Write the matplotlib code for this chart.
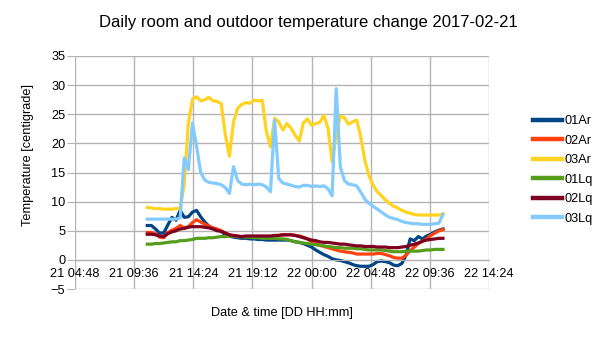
import matplotlib
matplotlib.use("Agg")
import matplotlib.pyplot as plt
import matplotlib.dates as mdates
import pandas as pd

plt.rcParams['font.family'] = ['Liberation Sans', 'DejaVu Sans']

# 20-minute readings, 2017-02-21 10:40 .. 2017-02-22 10:40
times = pd.date_range('2017-02-21 10:40', periods=73, freq='20min')

ar01 = [5.9, 5.9, 5.3, 4.6, 4.6, 6.0, 7.3, 6.8, 8.5, 7.3, 7.4, 8.2, 8.5, 7.4, 6.5, 5.8,
        5.4, 5.2, 4.9, 4.3, 4.1, 3.9, 3.8, 3.7, 3.7, 3.6, 3.6, 3.5, 3.5, 3.4, 3.4, 3.4,
        3.4, 3.4, 3.4, 3.3, 3.1, 3.0, 2.8, 2.5, 2.2, 1.7, 1.3, 0.9, 0.6, 0.2, 0.0, -0.1,
        -0.3, -0.5, -0.8, -1.0, -1.1, -1.1, -1.1, -0.8, -0.3, -0.2, -0.3, -0.5, -0.9, -1.0,
        -0.6, 0.8, 3.6, 3.3, 4.0, 3.6, 4.1, 4.4, 4.8, 5.1, 5.3]
ar02 = [4.7, 4.7, 4.5, 3.9, 3.8, 4.7, 5.1, 5.4, 5.9, 5.5, 5.7, 6.4, 6.9, 6.5, 6.1, 5.8,
        5.5, 5.3, 5.0, 4.6, 4.3, 4.1, 4.0, 4.0, 4.0, 4.0, 4.0, 4.0, 4.0, 4.0, 4.0, 4.1,
        4.2, 4.3, 4.3, 4.3, 4.2, 4.1, 3.9, 3.6, 3.1, 2.8, 2.5, 2.3, 2.1, 1.9, 1.7, 1.5,
        1.4, 1.3, 1.2, 1.0, 1.0, 1.0, 1.0, 1.0, 1.1, 1.1, 0.9, 0.7, 0.4, 0.3, 0.3, 0.8,
        1.6, 2.2, 2.8, 3.2, 3.6, 4.2, 4.6, 5.0, 5.2]
ar03 = [9.0, 8.9, 8.8, 8.8, 8.7, 8.7, 8.7, 8.8, 8.8, 13.0, 23.5, 27.6, 28.0, 27.3, 27.5, 27.9,
        27.3, 27.2, 26.8, 21.5, 17.8, 23.7, 26.0, 26.7, 27.0, 26.9, 27.4, 27.3, 27.4, 22.0, 19.4, 24.3,
        23.7, 22.3, 23.4, 22.6, 21.4, 20.4, 23.5, 24.2, 23.1, 23.4, 23.6, 24.8, 22.6, 16.8, 21.5, 24.7,
        24.4, 23.3, 23.7, 24.0, 21.0, 17.0, 14.4, 12.8, 11.7, 11.0, 10.3, 9.7, 9.2, 8.9, 8.5, 8.2,
        8.0, 7.8, 7.7, 7.7, 7.7, 7.7, 7.7, 7.7, 7.9]
lq01 = [2.7, 2.7, 2.8, 2.8, 2.9, 3.0, 3.1, 3.1, 3.3, 3.3, 3.4, 3.5, 3.7, 3.7, 3.7, 3.8,
        3.8, 3.9, 4.0, 4.0, 4.1, 4.1, 4.0, 4.0, 3.9, 3.9, 3.8, 3.8, 3.7, 3.7, 3.7, 3.7,
        3.6, 3.6, 3.5, 3.3, 3.1, 3.0, 2.9, 2.8, 2.7, 2.6, 2.5, 2.4, 2.3, 2.2, 2.1, 2.1,
        2.0, 2.0, 2.0, 1.9, 1.9, 1.8, 1.7, 1.7, 1.7, 1.7, 1.6, 1.5, 1.4, 1.4, 1.4, 1.5,
        1.5, 1.5, 1.5, 1.6, 1.7, 1.7, 1.8, 1.8, 1.8]
lq02 = [4.4, 4.4, 4.3, 4.1, 4.0, 4.5, 4.8, 5.0, 5.3, 5.4, 5.6, 5.7, 5.7, 5.7, 5.6, 5.5,
        5.3, 5.0, 4.9, 4.6, 4.3, 4.2, 4.1, 4.0, 4.1, 4.1, 4.1, 4.1, 4.1, 4.1, 4.1, 4.2,
        4.2, 4.3, 4.3, 4.3, 4.2, 4.0, 3.8, 3.6, 3.4, 3.3, 3.1, 3.0, 3.0, 2.9, 2.8, 2.7,
        2.7, 2.6, 2.5, 2.4, 2.4, 2.3, 2.3, 2.3, 2.2, 2.2, 2.2, 2.1, 2.1, 2.1, 2.2, 2.3,
        2.5, 2.7, 2.9, 3.2, 3.4, 3.5, 3.6, 3.7, 3.7]
lq03 = [7.0, 7.0, 7.0, 7.0, 7.0, 7.0, 7.0, 7.0, 7.2, 17.5, 15.5, 23.5, 19.5, 15.0, 13.7, 13.3,
        13.2, 13.1, 12.9, 12.4, 11.4, 16.0, 13.6, 13.0, 12.9, 13.0, 12.9, 13.0, 12.9, 12.5, 11.7, 24.0,
        14.0, 13.2, 13.0, 12.8, 12.6, 12.5, 12.8, 12.8, 12.6, 12.7, 12.6, 12.7, 12.2, 11.0, 29.4, 16.0,
        13.6, 13.0, 12.9, 12.7, 11.6, 10.4, 9.7, 9.2, 8.7, 8.2, 7.7, 7.3, 7.1, 6.9, 6.6, 6.4,
        6.3, 6.2, 6.2, 6.1, 6.1, 6.1, 6.2, 6.3, 7.8]

series_names = ['01Ar', '02Ar', '03Ar', '01Lq', '02Lq', '03Lq']
series_colors = ['#004586', '#ff420e', '#ffd320', '#579d1c', '#7e0021', '#83caff']
series_values = [ar01, ar02, ar03, lq01, lq02, lq03]

x_ticks = pd.date_range('2017-02-21 04:48', '2017-02-22 14:24', freq='288min')
y_ticks = list(range(-5, 36, 5))

fig = plt.figure(figsize=(6.05, 3.4), dpi=100)
ax = fig.add_axes([75 / 605, 51 / 340, 414 / 605, 233 / 340])

for name, color, vals in zip(series_names, series_colors, series_values):
    ax.plot(times, vals, color=color, lw=2.3, label=name, solid_joinstyle='round')

ax.set_xlim(x_ticks[0], x_ticks[-1])
ax.set_ylim(-5, 35)
ax.set_xticks(x_ticks)
ax.set_yticks(y_ticks)
ax.xaxis.set_major_formatter(mdates.DateFormatter('%d %H:%M'))

ax.grid(True, color='#b3b3b3', lw=1.0)
ax.set_axisbelow(True)
for side in ['top', 'right', 'left']:
    ax.spines[side].set_visible(False)
ax.spines['bottom'].set_position(('data', 0))
ax.spines['bottom'].set_color('#b3b3b3')
ax.tick_params(axis='x', length=0, pad=6, labelsize=9.2)
ax.tick_params(axis='y', length=6, color='#b3b3b3', pad=1, labelsize=9.2)

fig.text(308 / 605, 1 - 22 / 340, 'Daily room and outdoor temperature change 2017-02-21',
         ha='center', va='center', fontsize=12)
fig.text(282 / 605, 1 - 313 / 340, 'Date & time [DD HH:mm]', ha='center', va='center', fontsize=9.2)
fig.text(28 / 605, 1 - 155 / 340, 'Temperature [centigrade]', ha='center', va='center',
         rotation=90, fontsize=9.2)

leg = fig.legend(loc='center left', bbox_to_anchor=(533 / 605, 1 - 170 / 340), frameon=False,
                 borderpad=0, borderaxespad=0, handlelength=2.3, handletextpad=0.15,
                 labelspacing=0.58, fontsize=9.2)
for line in leg.get_lines():
    line.set_linewidth(3.2)

fig.savefig('out.png', dpi=100)
